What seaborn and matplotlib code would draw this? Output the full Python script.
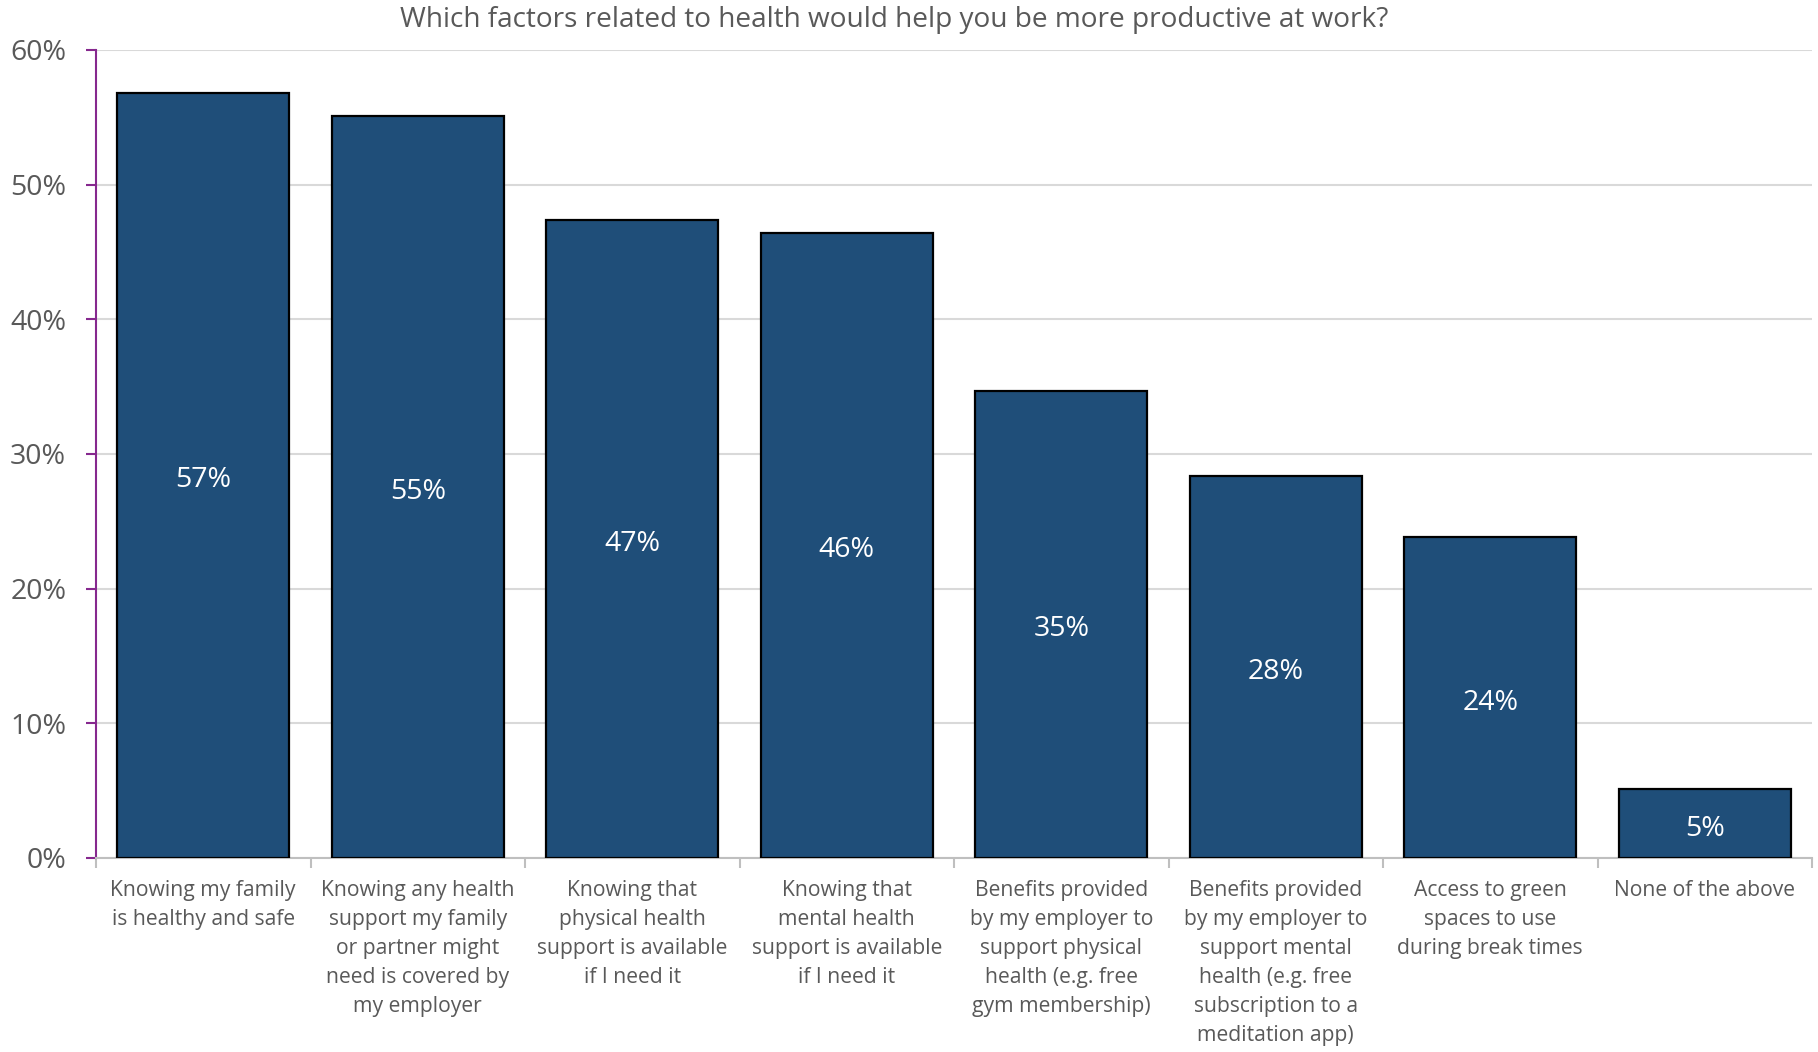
import matplotlib
matplotlib.use("Agg")
import matplotlib.pyplot as plt
from matplotlib.ticker import PercentFormatter, FixedLocator
import seaborn as sns
import pandas as pd

title = "Which factors related to health would help you be more productive at work?"
categories = [
    "Knowing my family\nis healthy and safe",
    "Knowing any health\nsupport my family\nor partner might\nneed is covered by\nmy employer",
    "Knowing that\nphysical health\nsupport is available\nif I need it",
    "Knowing that\nmental health\nsupport is available\nif I need it",
    "Benefits provided\nby my employer to\nsupport physical\nhealth (e.g. free\ngym membership)",
    "Benefits provided\nby my employer to\nsupport mental\nhealth (e.g. free\nsubscription to a\nmeditation app)",
    "Access to green\nspaces to use\nduring break times",
    "None of the above",
]
values = [0.568, 0.551, 0.474, 0.464, 0.347, 0.284, 0.238, 0.051]
y_ticks = [0.0, 0.1, 0.2, 0.3, 0.4, 0.5, 0.6]

df = pd.DataFrame({"category": categories, "value": values})

sns.set_theme(style="white")
plt.rcParams["font.family"] = ["Open Sans", "DejaVu Sans"]

TEXT = "#595959"
BAR = "#1F4E79"

fig = plt.figure(figsize=(18.18, 10.52), dpi=100)
ax = fig.add_axes([96 / 1818, 194 / 1052, (1812 - 96) / 1818, (858 - 50) / 1052])

sns.barplot(data=df, x="category", y="value", color=BAR, saturation=1,
            edgecolor="black", linewidth=1.6, width=0.8, ax=ax, zorder=3)

ax.set_ylim(0, 0.6)
ax.set_xlim(-0.5, len(categories) - 0.5)
ax.yaxis.set_major_locator(FixedLocator(y_ticks))
ax.yaxis.set_major_formatter(PercentFormatter(1.0, decimals=0))
ax.set_axisbelow(True)
ax.yaxis.grid(True, color="#D9D9D9", linewidth=1.5, zorder=0)
ax.set_xlabel("")
ax.set_ylabel("")

for side in ["top", "right"]:
    ax.spines[side].set_visible(False)
ax.spines["left"].set_color("#86288E")
ax.spines["left"].set_linewidth(1.5)
ax.spines["bottom"].set_color("#BFBFBF")
ax.spines["bottom"].set_linewidth(1.5)

ax.tick_params(axis="y", which="major", length=7.5, width=1.5, color="#86288E",
               labelsize=20.5, labelcolor=TEXT, pad=14, left=True)
ax.tick_params(axis="x", which="major", length=0, labelsize=15.2, labelcolor=TEXT, pad=16)
ax.set_xticks([i + 0.5 for i in range(-1, len(categories))], minor=True)
ax.tick_params(axis="x", which="minor", length=7, width=1.5, color="#BFBFBF", bottom=True)
for lbl in ax.get_xticklabels():
    lbl.set_linespacing(1.5)
    lbl.set_ha("center")

for cont in ax.containers:
    texts = ax.bar_label(cont, labels=[f"{v:.0%}" for v in values], label_type="center",
                         color="white", fontsize=20.5)
    for t in texts:
        t.xyann = (0, -3.5)

fig.text(894 / 1818, 1 - 27 / 1052, title, ha="center", va="baseline",
         fontsize=20.2, color=TEXT)

fig.savefig("out.png", dpi=100)
